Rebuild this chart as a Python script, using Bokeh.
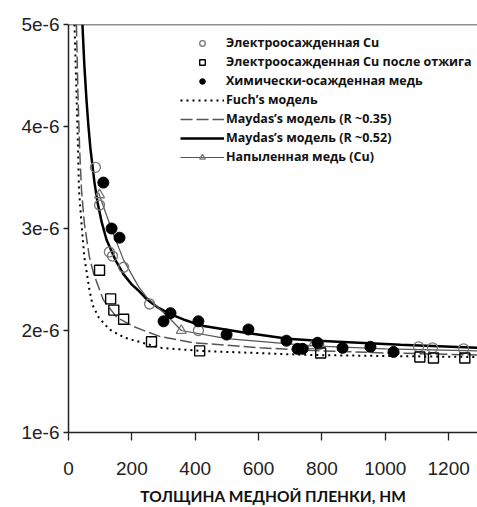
from bokeh.plotting import figure
from bokeh.models import (Legend, LegendItem, FixedTicker, CustomJSTickFormatter, Span, LinearAxis)
from bokeh.embed import file_html
from bokeh.resources import INLINE

# ---- data (thickness in nm, resistivity in Ohm*cm) ----
electro_x = [85, 98, 129, 139, 174, 256, 410, 790, 1105, 1149, 1247]
electro_y = [3.60e-6, 3.23e-6, 2.77e-6, 2.73e-6, 2.62e-6, 2.26e-6, 2.00e-6, 1.86e-6, 1.84e-6, 1.83e-6, 1.82e-6]

anneal_x = [98, 133, 143, 174, 262, 414, 796, 1109, 1152, 1251]
anneal_y = [2.59e-6, 2.31e-6, 2.20e-6, 2.11e-6, 1.89e-6, 1.80e-6, 1.78e-6, 1.74e-6, 1.73e-6, 1.73e-6]

chem_x = [110, 136, 161, 300, 322, 410, 499, 568, 688, 723, 739, 786, 865, 953, 1026]
chem_y = [3.45e-6, 3.00e-6, 2.91e-6, 2.09e-6, 2.17e-6, 2.09e-6, 1.96e-6, 2.01e-6, 1.90e-6, 1.82e-6, 1.82e-6,
          1.88e-6, 1.83e-6, 1.84e-6, 1.79e-6]

fuchs_x = [19, 25, 30, 33, 41, 50, 66, 76, 95, 129, 177, 290, 417, 500, 760, 1000, 1291]
fuchs_y = [5.0e-6, 4.35e-6, 3.79e-6, 3.38e-6, 3.05e-6, 2.72e-6, 2.40e-6, 2.25e-6, 2.13e-6, 2.01e-6, 1.93e-6,
           1.83e-6, 1.80e-6, 1.79e-6, 1.76e-6, 1.75e-6, 1.74e-6]

may35_x = [25, 30, 35, 41, 50, 66, 80, 110, 152, 205, 246, 290, 395, 606, 800, 1000, 1291]
may35_y = [5.0e-6, 4.30e-6, 3.79e-6, 3.38e-6, 3.05e-6, 2.72e-6, 2.55e-6, 2.30e-6, 2.13e-6, 2.04e-6, 1.99e-6,
           1.94e-6, 1.88e-6, 1.83e-6, 1.80e-6, 1.78e-6, 1.76e-6]

may52_x = [44, 50, 57, 63, 69, 82, 92, 105, 120, 133, 150, 174, 200, 218, 246, 280, 322, 370, 417, 553, 692, 786,
           1048, 1291]
may52_y = [5.0e-6, 4.60e-6, 4.25e-6, 4.00e-6, 3.79e-6, 3.45e-6, 3.25e-6, 3.06e-6, 2.89e-6, 2.80e-6, 2.68e-6,
           2.55e-6, 2.45e-6, 2.40e-6, 2.31e-6, 2.23e-6, 2.16e-6, 2.10e-6, 2.05e-6, 1.98e-6, 1.92e-6, 1.90e-6,
           1.86e-6, 1.83e-6]

sput_line_x = [95, 136, 174, 221, 246, 281, 322, 356, 500, 770, 1000, 1291]
sput_line_y = [3.35e-6, 2.99e-6, 2.69e-6, 2.43e-6, 2.33e-6, 2.23e-6, 2.11e-6, 2.00e-6, 1.92e-6, 1.85e-6,
               1.82e-6, 1.80e-6]
sput_x = [98, 356, 770]
sput_y = [3.33e-6, 2.00e-6, 1.85e-6]

x_ticks = [0, 200, 400, 600, 800, 1000, 1200]
y_ticks = [1e-6, 2e-6, 3e-6, 4e-6, 5e-6]

labels = ["Электроосажденная Cu",
          "Электроосажденная Cu после отжига",
          "Химически-осажденная медь",
          "Fuch’s модель",
          "Maydas’s модель (R ~0.35)",
          "Maydas’s модель (R ~0.52)",
          "Напыленная медь (Cu)"]
x_label = "ТОЛЩИНА МЕДНОЙ ПЛЕНКИ, НМ"

p = figure(width=477, height=507, output_backend="svg", toolbar_location=None,
           x_range=(0, 1291), y_range=(1e-6, 5e-6),
           min_border_left=68, min_border_right=0, min_border_top=24, min_border_bottom=74)
p.outline_line_color = None
p.xgrid.visible = False
p.ygrid.visible = False
p.background_fill_color = "white"

top_line = Span(location=5e-6, dimension="width", line_color="#222222", line_width=1.5)
p.add_layout(top_line)

r_fuchs = p.line(fuchs_x, fuchs_y, line_color="black", line_width=2, line_dash="2 4")
r_m35 = p.line(may35_x, may35_y, line_color="#555555", line_width=1.5, line_dash="12 4")
r_m52 = p.line(may52_x, may52_y, line_color="black", line_width=2.5)
r_sl = p.line(sput_line_x, sput_line_y, line_color="#555555", line_width=1.2)
r_st = p.scatter(sput_x, sput_y, marker="triangle", size=10, line_color="#777777", line_width=1.3,
                 fill_color="white", fill_alpha=0.0)
r_el = p.scatter(electro_x, electro_y, marker="circle", size=10, line_color="#777777", line_width=1.3,
                 fill_alpha=0.0)
r_an = p.scatter(anneal_x, anneal_y, marker="square", size=10, line_color="black", line_width=1.4,
                 fill_alpha=0.0)
r_ch = p.scatter(chem_x, chem_y, marker="circle", size=11, line_color="black", fill_color="black")

legend = Legend(items=[
    LegendItem(label=labels[0], renderers=[r_el]),
    LegendItem(label=labels[1], renderers=[r_an]),
    LegendItem(label=labels[2], renderers=[r_ch]),
    LegendItem(label=labels[3], renderers=[r_fuchs]),
    LegendItem(label=labels[4], renderers=[r_m35]),
    LegendItem(label=labels[5], renderers=[r_m52]),
    LegendItem(label=labels[6], renderers=[r_sl, r_st]),
], location=(112, 267))
legend.border_line_color = None
legend.background_fill_color = "white"
legend.background_fill_alpha = 1.0
legend.padding = 8
legend.margin = 0
legend.spacing = 2
legend.glyph_width = 44
legend.glyph_height = 14
legend.label_height = 14
legend.label_standoff = 2
legend.label_text_font = "Open Sans"
legend.label_text_font_style = "bold"
legend.label_text_font_size = "12.5px"
legend.label_text_color = "#111111"
p.add_layout(legend)

for ax in (p.xaxis[0], p.yaxis[0]):
    ax.axis_line_color = "#222222"
    ax.axis_line_width = 1.5
    ax.major_tick_line_color = "#222222"
    ax.major_tick_line_width = 1.3
    ax.minor_tick_line_color = None
    ax.major_tick_in = 0
    ax.major_label_text_font = "Liberation Sans"
    ax.major_label_text_font_size = "19px"
    ax.major_label_text_color = "#222222"

p.xaxis.ticker = FixedTicker(ticks=x_ticks)
p.xaxis.major_tick_out = 8
p.xaxis.major_label_standoff = 21
p.xaxis.axis_label = x_label
p.xaxis.axis_label_text_font = "Lato"
p.xaxis.axis_label_text_font_style = "bold"
p.xaxis.axis_label_text_font_size = "15.5px"
p.xaxis.axis_label_text_color = "#111111"
p.xaxis.axis_label_standoff = 9

p.yaxis.ticker = FixedTicker(ticks=y_ticks)
p.yaxis.major_tick_out = 5
p.yaxis.major_label_standoff = 4
p.yaxis.formatter = CustomJSTickFormatter(code="return tick.toExponential(0);")

# empty outer axis used only as a ~10px spacer left of the tick labels
spacer = LinearAxis(ticker=FixedTicker(ticks=[]), axis_line_color=None, major_tick_line_color=None,
                    minor_tick_line_color=None, major_tick_out=10, major_tick_in=0,
                    major_label_standoff=0, major_label_text_font_size="0px")
p.add_layout(spacer, "left")

open("out.html", "w").write(file_html(p, INLINE))
